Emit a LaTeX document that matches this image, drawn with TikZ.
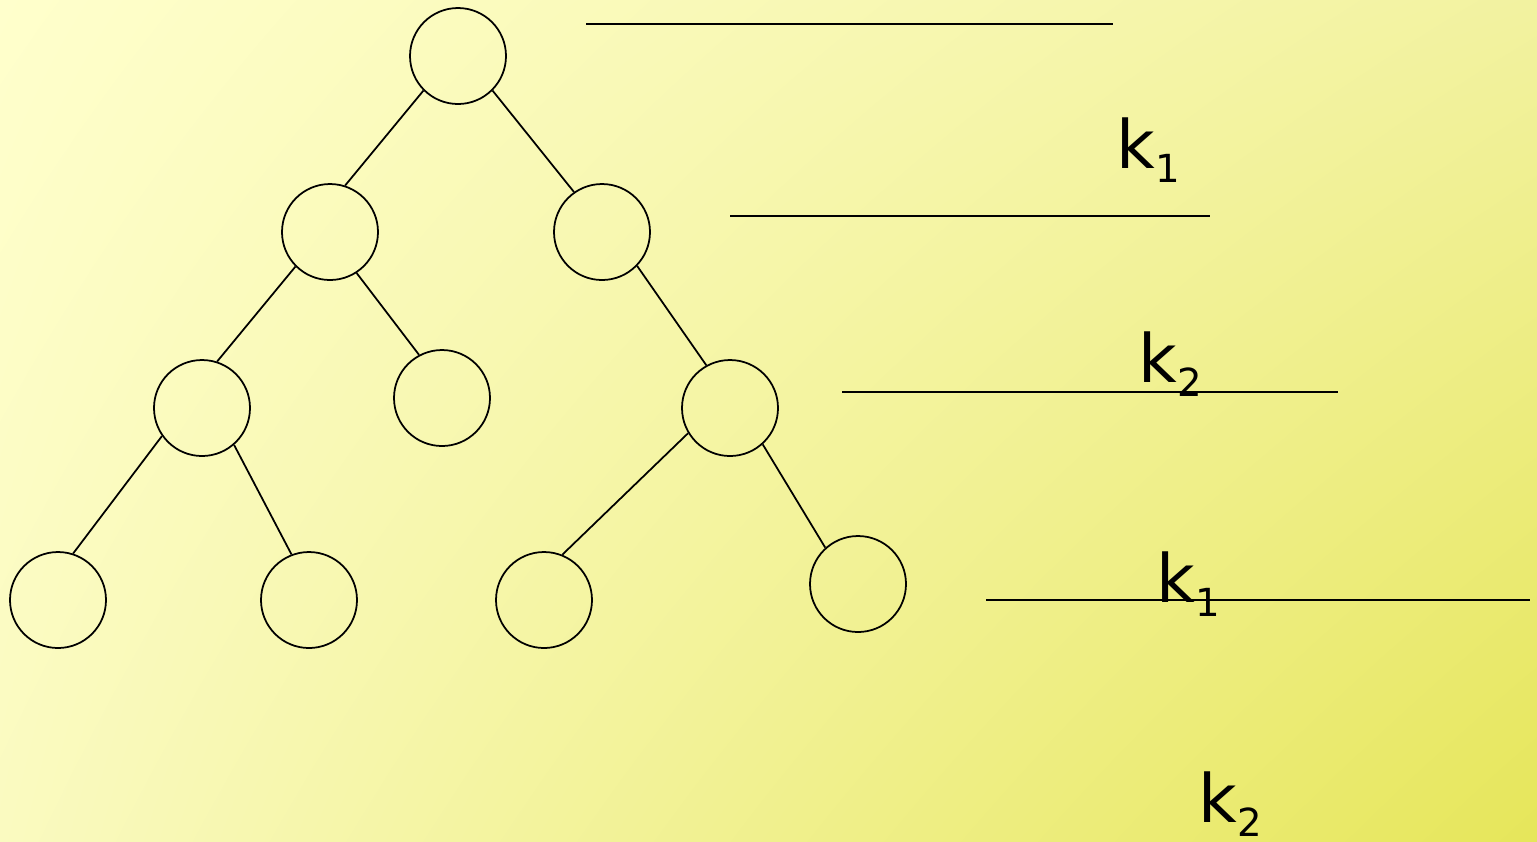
\documentclass[tikz,border=0pt]{standalone}
\usepackage{fontspec}
\setmainfont{DejaVu Sans}
\usetikzlibrary{positioning,calc,shadings}
\definecolor{paleyel}{HTML}{FFFFCC}
\definecolor{softyel}{HTML}{FAFAC0}
\definecolor{midyel}{HTML}{F2F2A0}
\definecolor{deepyel}{HTML}{E6E65A}
\tikzset{
  vert/.style={draw, circle, minimum size=9.6mm, inner sep=0pt, line width=0.5pt},
  edge/.style={line width=0.5pt},
  level/.style={line width=0.5pt},
  lab/.style={font=\fontsize{19}{22}\selectfont, inner sep=0pt, anchor=base west},
}
\newcommand{\kk}[1]{k\raisebox{-4pt}{\fontsize{11}{13}\selectfont #1}}

\begin{document}
\begin{tikzpicture}[x=0.1mm, y=-0.1mm]
    % background
    \shade[upper left=paleyel, lower left=softyel, upper right=midyel, lower right=deepyel]
      (0,0) rectangle (1537,841);
    \useasboundingbox (0,0) rectangle (1537,841);
    % the tree
    \node[vert] (r) at (458,56) {};
    \node[vert] (a) at (330,232) {};
    \node[vert] (b) at (602,232) {};
    \node[vert] (aa) at (202,408) {};
    \node[vert] (ab) at (442,398) {};
    \node[vert] (ba) at (730,408) {};
    \node[vert] (aaa) at (58,600) {};
    \node[vert] (aab) at (309,600) {};
    \node[vert] (baa) at (544,600) {};
    \node[vert] (bab) at (858,584) {};
    \draw[edge] (r.-135) -- (a.72);
    \draw[edge] (r.-45) -- (b.125);
    \draw[edge] (a.-135) -- (aa.72);
    \draw[edge] (a.-57) -- (ab.118);
    \draw[edge] (b.-44) -- (ba.119);
    \draw[edge] (aa.-145) -- (aaa.72);
    \draw[edge] (aa.-49) -- (aab.111);
    \draw[edge] (ba.-149) -- (baa.68);
    \draw[edge] (ba.-48) -- (bab.132);
    % levels and split keys
    \coordinate (l0a) at (586,24);  \coordinate (l0b) at (1113,24);
    \coordinate (l1a) at (730,216); \coordinate (l1b) at (1210,216);
    \coordinate (l2a) at (842,392); \coordinate (l2b) at (1338,392);
    \coordinate (l3a) at (986,600); \coordinate (l3b) at (1530,600);
    \draw[level] (l0a) -- (l0b);
    \draw[level] (l1a) -- (l1b);
    \draw[level] (l2a) -- (l2b);
    \draw[level] (l3a) -- (l3b);
    \node[lab] (k1) at (1116,168) {\kk{1}};
    \node[lab] (k2) at (1138,382) {\kk{2}};
    \node[lab] (k3) at (1156,602) {\kk{1}};
    \node[lab] (k4) at (1198,822) {\kk{2}};
\end{tikzpicture}
\end{document}
